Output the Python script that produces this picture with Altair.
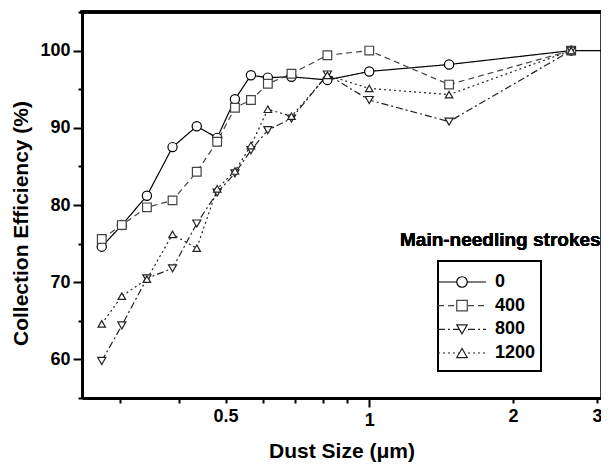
import altair as alt
import pandas as pd

# ---- data ----
sizes = [0.275, 0.303, 0.342, 0.387, 0.435, 0.480, 0.523, 0.565, 0.613, 0.687, 0.817, 1.0, 1.47, 2.65]
eff_0 = [74.6, 77.4, 81.2, 87.5, 90.2, 88.7, 93.7, 96.8, 96.5, 96.6, 96.2, 97.3, 98.2, 100.0]
eff_400 = [75.6, 77.4, 79.7, 80.6, 84.3, 88.2, 92.6, 93.6, 95.7, 97.0, 99.4, 100.0, 95.6, 100.0]
eff_800 = [59.8, 64.4, 70.5, 71.8, 77.6, 81.6, 84.1, 87.1, 89.7, 91.2, 96.9, 93.6, 90.8, 100.0]
eff_1200 = [64.6, 68.2, 70.4, 76.2, 74.4, 82.1, 84.4, 87.7, 92.4, 91.5, 96.8, 95.1, 94.3, 100.0]
# series "0" continues past the right frame edge
tail_0_size = [3.3]
tail_0_eff = [100.0]

series_names = ["0", "400", "800", "1200"]
series_values = [eff_0, eff_400, eff_800, eff_1200]
shapes = ["circle", "square", "triangle-down", "triangle-up"]
dashes = [[1, 0], [6, 4], [7, 3, 2, 3], [2, 3]]
strokes = ["#000000", "#444444", "#222222", "#222222"]
msizes = [85, 56, 95, 95]

x_ticks = [0.3, 0.4, 0.5, 0.6, 0.7, 0.8, 0.9, 1, 2, 3]
x_labeled = [0.5, 1, 2, 3]
y_major = [60, 70, 80, 90, 100]
y_minor = [55, 65, 75, 85, 95, 105]

rows = []
for name, vals in zip(series_names, series_values):
    for s, v in zip(sizes, vals):
        rows.append({"size": s, "eff": v, "series": name})
for s, v in zip(tail_0_size, tail_0_eff):
    rows.append({"size": s, "eff": v, "series": "0"})
df = pd.DataFrame(rows)

leg_rows = []
for i, name in enumerate(series_names):
    for lx in (0.0, 1.0):
        leg_rows.append({"series": name, "idx": i, "lx": lx})
leg_lines = pd.DataFrame(leg_rows)
leg_marks = pd.DataFrame({"series": series_names, "idx": list(range(len(series_names))), "lx": [0.5] * 4})

FONT = "Liberation Sans"
W, H = 519, 386

dash_scale = alt.Scale(domain=series_names, range=dashes)
shape_scale = alt.Scale(domain=series_names, range=shapes)
stroke_scale = alt.Scale(domain=series_names, range=strokes)
size_scale = alt.Scale(domain=series_names, range=msizes)
y_scale = alt.Scale(domain=[55, 105], nice=False, zero=False)

xl = "[" + ",".join(str(v) for v in x_labeled) + "]"

x_enc = alt.X(
    "size:Q",
    scale=alt.Scale(type="log", domain=[0.25, 3.06], nice=False),
    axis=alt.Axis(
        values=x_ticks,
        format="~g",
        labelExpr=f"indexof({xl}, datum.value) >= 0 ? datum.label : ''",
        tickSize={"condition": {"test": "datum.value == 1", "value": 9}, "value": 5},
        tickWidth=2,
        labelPadding=4,
        title="Dust Size (\u03bcm)",
        titlePadding=11,
        labelFlush=False,
        labelOverlap=False,
    ),
)

lines = alt.Chart(df).mark_line(clip=True, strokeWidth=1.2).encode(
    x=x_enc,
    y=alt.Y(
        "eff:Q",
        scale=y_scale,
        axis=alt.Axis(
            orient="left",
            values=y_major,
            tickSize=9,
            tickWidth=2,
            labelPadding=3,
            title="Collection Efficiency (%)",
            titlePadding=8,
            titleY=211,
            labelFlush=False,
            labelOverlap=False,
        ),
    ),
    strokeDash=alt.StrokeDash("series:N", scale=dash_scale, legend=None),
    stroke=alt.Stroke("series:N", scale=stroke_scale, legend=None),
    order="size:Q",
)
points = alt.Chart(df).mark_point(clip=True, filled=True, fill="white", strokeWidth=1.2, opacity=1).encode(
    x="size:Q",
    y=alt.Y(
        "eff:Q",
        scale=y_scale,
        axis=alt.Axis(
            orient="left",
            values=y_minor,
            tickSize=4,
            tickWidth=2,
            labels=False,
            domain=False,
            title=None,
        ),
    ),
    shape=alt.Shape("series:N", scale=shape_scale, legend=None),
    stroke=alt.Stroke("series:N", scale=stroke_scale, legend=None),
    size=alt.Size("series:N", scale=size_scale, legend=None),
)
main = alt.layer(lines, points).resolve_axis(y="independent")

# ---- hand-made legend ----
lx_scale = alt.Scale(domain=[0, 1], range=[356, 404])
idx_scale = alt.Scale(domain=[0, 3], range=[270, 341])

leg_box = alt.Chart(leg_marks).mark_rect(fillOpacity=0, stroke="black", strokeWidth=1.5).encode(
    x=alt.value(356), x2=alt.value(459), y=alt.value(249), y2=alt.value(359)
)
leg_title = alt.Chart(leg_marks).mark_text(
    align="left", baseline="alphabetic", font=FONT, fontSize=19, fontWeight="bold", color="black"
).encode(x=alt.value(318), y=alt.value(234), text=alt.value("Main-needling strokes"))
leg_l = alt.Chart(leg_lines).mark_line(strokeWidth=1.2).encode(
    x=alt.X("lx:Q", scale=lx_scale, axis=None),
    y=alt.Y("idx:Q", scale=idx_scale, axis=None),
    strokeDash=alt.StrokeDash("series:N", scale=dash_scale, legend=None),
    stroke=alt.Stroke("series:N", scale=stroke_scale, legend=None),
)
leg_p = alt.Chart(leg_marks).mark_point(filled=True, fill="white", strokeWidth=1.2, opacity=1).encode(
    x=alt.X("lx:Q", scale=lx_scale, axis=None),
    y=alt.Y("idx:Q", scale=idx_scale, axis=None),
    shape=alt.Shape("series:N", scale=shape_scale, legend=None),
    stroke=alt.Stroke("series:N", scale=stroke_scale, legend=None),
    size=alt.value(110),
)
leg_t = alt.Chart(leg_marks).mark_text(
    align="left", baseline="middle", font=FONT, fontSize=18, fontWeight="bold", color="black"
).encode(
    x=alt.value(413),
    y=alt.Y("idx:Q", scale=idx_scale, axis=None),
    text="series:N",
)
top_line = alt.Chart(leg_marks).mark_rule(strokeWidth=3, color="black").encode(
    x=alt.value(-1.5), x2=alt.value(W), y=alt.value(0)
)
legend = alt.layer(leg_box, leg_title, leg_l, leg_p, leg_t, top_line)

chart = (
    alt.layer(main, legend)
    .resolve_scale(x="independent", y="independent")
    .properties(
        width=W,
        height=H,
        autosize=alt.AutoSizeParams(type="none"),
        padding={"left": 74, "top": 4, "right": 0, "bottom": 64},
    )
    .configure_view(stroke="black", strokeWidth=1.5)
    .configure_axis(
        labelFont=FONT,
        labelFontSize=18,
        labelFontWeight="bold",
        labelColor="black",
        titleFont=FONT,
        titleFontSize=21,
        titleFontWeight="bold",
        titleColor="black",
        domainColor="black",
        domainWidth=3,
        tickColor="black",
        grid=False,
    )
)

chart.save("out.html", embed_options={"renderer": "svg", "actions": False})
